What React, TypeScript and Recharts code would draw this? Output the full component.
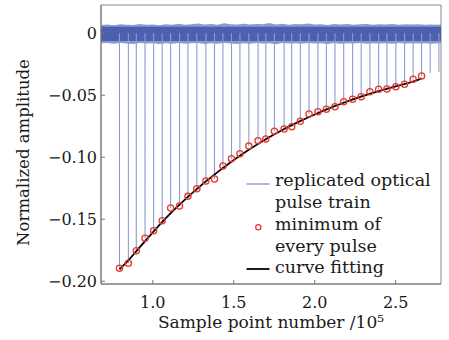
import React from 'react';
import { ComposedChart, Line, Area, Scatter, XAxis, YAxis, ReferenceArea, Legend, Label } from 'recharts';

// pulse minima (x in 10^5 samples, normalized amplitude)
const minimaX = [0.794, 0.849, 0.898, 0.952, 1.005, 1.058, 1.110, 1.165, 1.217, 1.272, 1.328, 1.381, 1.433, 1.486, 1.538, 1.593, 1.650, 1.698, 1.751, 1.811, 1.858, 1.911, 1.965, 2.020, 2.072, 2.125, 2.179, 2.234, 2.287, 2.341, 2.395, 2.446, 2.501, 2.555, 2.608, 2.660];
const minimaY = [-0.1895, -0.1855, -0.1753, -0.1653, -0.1592, -0.1511, -0.1409, -0.1393, -0.1315, -0.1253, -0.1191, -0.1175, -0.1070, -0.1011, -0.0971, -0.0910, -0.0866, -0.0852, -0.0790, -0.0772, -0.0753, -0.0710, -0.0651, -0.0632, -0.0613, -0.0592, -0.0552, -0.0532, -0.0511, -0.0471, -0.0452, -0.0449, -0.0431, -0.0411, -0.0371, -0.0344];
// pulses beyond the last marked minimum
const extraPulseX = [2.713, 2.767];
const extraPulseY = [-0.032, -0.031];

// fitted curve
const fitX = [0.794, 0.85, 0.90, 0.95, 1.00, 1.10, 1.20, 1.30, 1.40, 1.50, 1.60, 1.70, 1.80, 1.90, 2.00, 2.10, 2.20, 2.30, 2.40, 2.50, 2.60, 2.66];
const fitY = [-0.1905, -0.1830, -0.1755, -0.1680, -0.1605, -0.1465, -0.1340, -0.1225, -0.1120, -0.1022, -0.0933, -0.0852, -0.0780, -0.0715, -0.0655, -0.0600, -0.0550, -0.0505, -0.0465, -0.0428, -0.0393, -0.0364];

// noise band around zero: outer fuzz envelope and dense core
const bandX = [0.68, 0.72, 0.76, 0.80, 0.84, 0.88, 0.92, 0.96, 1.00, 1.04, 1.08, 1.12, 1.16, 1.20, 1.24, 1.28, 1.32, 1.36, 1.40, 1.44, 1.48, 1.52, 1.56, 1.60, 1.64, 1.68, 1.72, 1.76, 1.80, 1.84, 1.88, 1.92, 1.96, 2.00, 2.04, 2.08, 2.12, 2.16, 2.20, 2.24, 2.28, 2.32, 2.36, 2.40, 2.44, 2.48, 2.52, 2.56, 2.60, 2.64, 2.68, 2.72, 2.76, 2.78];
const bandHigh = [0.0066, 0.0070, 0.0064, 0.0072, 0.0068, 0.0066, 0.0074, 0.0069, 0.0071, 0.0065, 0.0073, 0.0068, 0.0076, 0.0069, 0.0072, 0.0078, 0.0070, 0.0074, 0.0068, 0.0080, 0.0073, 0.0071, 0.0077, 0.0070, 0.0075, 0.0072, 0.0082, 0.0070, 0.0076, 0.0069, 0.0074, 0.0072, 0.0078, 0.0070, 0.0073, 0.0067, 0.0075, 0.0071, 0.0074, 0.0068, 0.0072, 0.0075, 0.0069, 0.0073, 0.0070, 0.0074, 0.0068, 0.0072, 0.0070, 0.0073, 0.0068, 0.0071, 0.0069, 0.0070];
const bandLow = [-0.0080, -0.0078, -0.0084, -0.0079, -0.0082, -0.0086, -0.0079, -0.0083, -0.0080, -0.0087, -0.0080, -0.0084, -0.0078, -0.0085, -0.0081, -0.0079, -0.0086, -0.0081, -0.0084, -0.0078, -0.0083, -0.0086, -0.0080, -0.0084, -0.0079, -0.0082, -0.0080, -0.0088, -0.0079, -0.0083, -0.0081, -0.0085, -0.0078, -0.0083, -0.0081, -0.0086, -0.0079, -0.0084, -0.0080, -0.0082, -0.0079, -0.0085, -0.0081, -0.0083, -0.0080, -0.0084, -0.0079, -0.0083, -0.0081, -0.0082, -0.0080, -0.0084, -0.0081, -0.0080];
const coreHigh = 0.0052;
const coreLow = -0.0062;

const xTicks = [1.0, 1.5, 2.0, 2.5];
const yTicks = [0, -0.05, -0.1, -0.15, -0.2];
const xDomain = [0.68, 2.78];
const yDomain = [-0.2022, 0.0228];

const legendLabels = [['replicated optical', 'pulse train'], ['minimum of', 'every pulse'], ['curve fitting']];

const FONT = '"DejaVu Serif", serif';
const PULSE_COLOR = '#8e9bd3';

const minimaData = minimaX.map((x, i) => ({ x, y: minimaY[i] }));
const fitData = fitX.map((x, i) => ({ x, y: fitY[i] }));
const bandData = bandX.map((x, i) => ({ x, range: [bandLow[i], bandHigh[i]], core: [coreLow, coreHigh] }));
const allPulseX = [...minimaX, ...extraPulseX];
const allPulseY = [...minimaY, ...extraPulseY];
const pulseData: { x: number; y: number | null }[] = [];
allPulseX.forEach((x, i) => {
  pulseData.push({ x, y: 0 });
  pulseData.push({ x, y: allPulseY[i] });
  pulseData.push({ x, y: null });
});

const fmtY = (v: number) => (v === 0 ? '0' : '\u2212' + Math.abs(v).toFixed(2));

const XTick = (props: any) => {
  const { x, y, payload } = props;
  return (
    <g>
      <line x1={x} y1={y} x2={x} y2={y - 4} stroke="#777" strokeWidth={1} />
      <text x={x} y={y + 24} textAnchor="middle" fontFamily={FONT} fontSize={16} fill="#1a1a1a">
        {Number(payload.value).toFixed(1)}
      </text>
    </g>
  );
};

const YTick = (props: any) => {
  const { x, y, payload } = props;
  return (
    <g>
      <line x1={x} y1={y} x2={x + 4} y2={y} stroke="#777" strokeWidth={1} />
      <text x={x - 4} y={y + 6} textAnchor="end" fontFamily={FONT} fontSize={16} fill="#1a1a1a">
        {fmtY(payload.value)}
      </text>
    </g>
  );
};

const Circle = (props: any) => {
  const { cx, cy } = props;
  return <circle cx={cx} cy={cy} r={3.1} fill="none" stroke="#e8392f" strokeWidth={1.3} />;
};

const LegendBox = () => (
  <svg width={209} height={110} style={{ display: 'block', overflow: 'visible' }}>
    <line x1={6.5} y1={14} x2={29.5} y2={14} stroke="#9aa6d8" strokeWidth={1.6} />
    <circle cx={18.3} cy={57.3} r={2.6} fill="none" stroke="#e8392f" strokeWidth={1.3} />
    <line x1={6.5} y1={99} x2={29.5} y2={99} stroke="#000" strokeWidth={1.8} />
    <g fontFamily={FONT} fontSize={17.5} fill="#1a1a1a">
      <text x={35} y={16}>{legendLabels[0][0]}</text>
      <text x={35} y={38}>{legendLabels[0][1]}</text>
      <text x={35} y={60}>{legendLabels[1][0]}</text>
      <text x={35} y={81.5}>{legendLabels[1][1]}</text>
      <text x={35} y={103}>{legendLabels[2][0]}</text>
    </g>
  </svg>
);

export default function App() {
  return (
    <div style={{ position: 'absolute', left: 0, top: 0, width: 449, height: 340, background: '#fff' }}>
      <ComposedChart width={449} height={340} margin={{ top: 5, right: 8, bottom: 0, left: 0 }}>
        <XAxis
          type="number"
          dataKey="x"
          domain={xDomain}
          ticks={xTicks}
          allowDataOverflow
          height={56}
          tickSize={0}
          tickMargin={0}
          tick={<XTick />}
          axisLine={{ stroke: '#777' }}
        >
          <Label
            content={(p: any) => {
              const vb = p.viewBox;
              return (
                <text x={vb.x + vb.width / 2} y={vb.y + 44} textAnchor="middle" fontFamily={FONT} fontSize={17} fill="#1a1a1a">
                  Sample point number /10⁵
                </text>
              );
            }}
          />
        </XAxis>
        <YAxis
          type="number"
          domain={yDomain}
          ticks={yTicks}
          allowDataOverflow
          width={101}
          tickSize={0}
          tickMargin={0}
          tick={<YTick />}
          axisLine={{ stroke: '#777' }}
        >
          <Label
            content={(p: any) => {
              const vb = p.viewBox;
              const cy = vb.y + vb.height / 2 + 8;
              return (
                <text x={23} y={cy} transform={`rotate(-90, 23, ${cy})`} textAnchor="middle" dominantBaseline="central" fontFamily={FONT} fontSize={16.5} fill="#1a1a1a">
                  Normalized amplitude
                </text>
              );
            }}
          />
        </YAxis>
        <ReferenceArea x1={xDomain[0]} x2={xDomain[1]} y1={yDomain[0]} y2={yDomain[1]} fill="none" stroke="#888" strokeWidth={1} />
        <Line data={pulseData} dataKey="y" type="linear" stroke={PULSE_COLOR} strokeWidth={1.1} dot={false} connectNulls={false} isAnimationActive={false} />
        <Area data={bandData} dataKey="range" type="linear" stroke="none" fill="#7687c9" fillOpacity={0.85} isAnimationActive={false} />
        <Area data={bandData} dataKey="core" type="linear" stroke="none" fill="#4a5cad" fillOpacity={0.95} isAnimationActive={false} />
        <Line data={fitData} dataKey="y" type="monotone" stroke="#000" strokeWidth={1.8} dot={false} isAnimationActive={false} />
        <Scatter data={minimaData} dataKey="y" shape={<Circle />} isAnimationActive={false} />
        <Legend
          verticalAlign="middle"
          layout="horizontal"
          content={() => <LegendBox />}
          wrapperStyle={{ position: 'absolute', left: 240, top: 170, width: 209, height: 110 }}
        />
      </ComposedChart>
    </div>
  );
}
